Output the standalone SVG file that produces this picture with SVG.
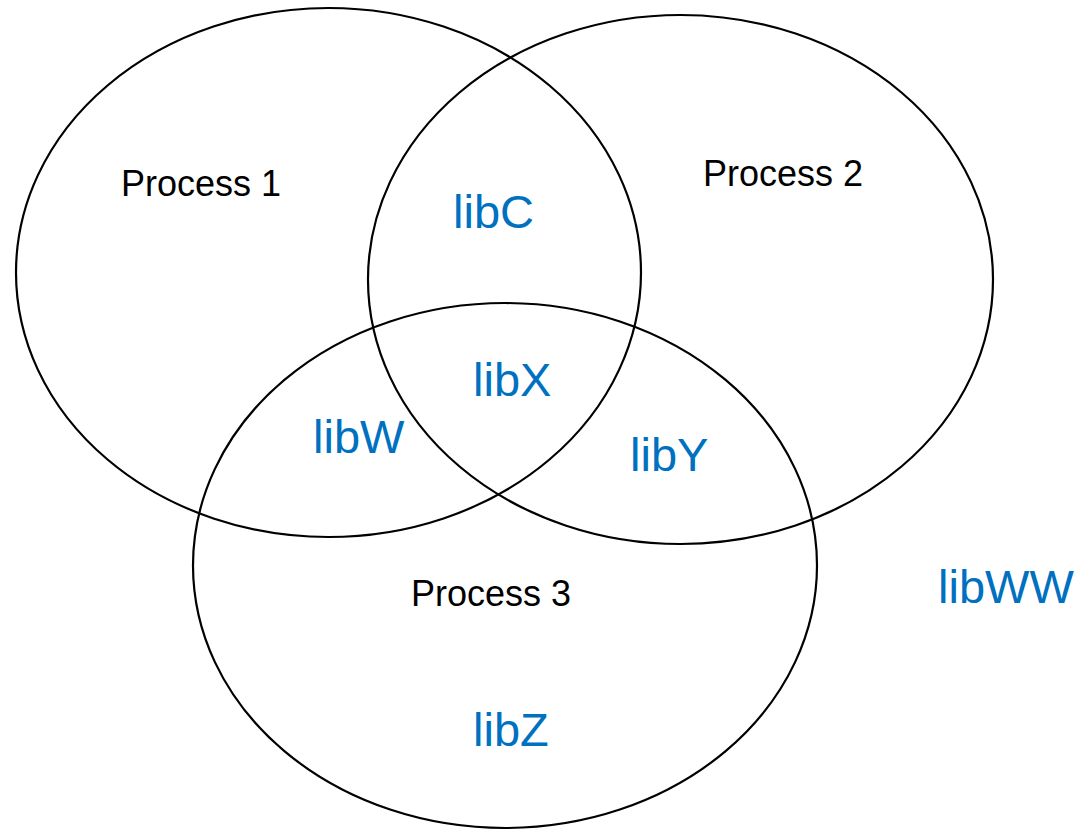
<svg xmlns="http://www.w3.org/2000/svg" width="1078" height="830" viewBox="0 0 1078 830">
<style>
.set{fill:none;stroke:#000;stroke-width:2.2}
.proc{font-family:"Liberation Sans",Arial,sans-serif;font-size:36px;fill:#000}
.lib{font-family:"Liberation Sans",Arial,sans-serif;font-size:47px;fill:#0070C0}
</style>
<rect width="1078" height="830" fill="#fff"/>
<g id="process1"><ellipse class="set" cx="328.5" cy="272.5" rx="312.5" ry="264.5"/><text class="proc" x="121" y="196">Process 1</text></g>
<g id="process2"><ellipse class="set" cx="680.5" cy="279.5" rx="312.5" ry="264.5"/><text class="proc" x="703" y="186">Process 2</text></g>
<g id="process3"><ellipse class="set" cx="505" cy="565.5" rx="312" ry="262.5"/><text class="proc" x="411" y="606">Process 3</text></g>
<g id="labels">
<text class="lib" x="453" y="228">libC</text>
<text class="lib" x="473" y="396">libX</text>
<text class="lib" x="313" y="453">libW</text>
<text class="lib" x="630" y="471">libY</text>
<text class="lib" x="938" y="603">libWW</text>
<text class="lib" x="473" y="746">libZ</text>
</g>
<g id="connectors"/>
</svg>
